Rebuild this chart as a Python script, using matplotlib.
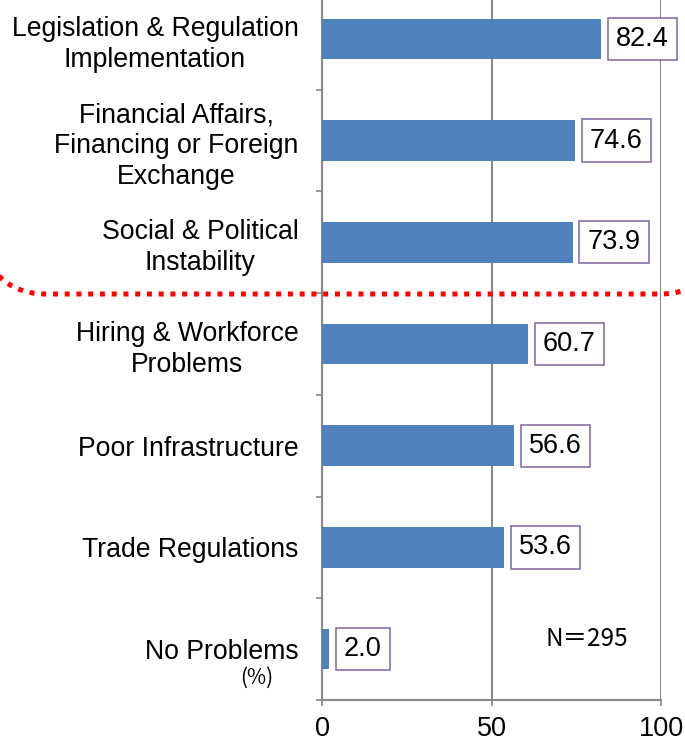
import numpy as np
import matplotlib.pyplot as plt
from matplotlib.lines import Line2D

categories = [
    'Legislation & Regulation\nImplementation',
    'Financial Affairs,\nFinancing or Foreign\nExchange',
    'Social & Political\nInstability',
    'Hiring & Workforce\nProblems',
    'Poor Infrastructure',
    'Trade Regulations',
    'No Problems',
]
values = [82.4, 74.6, 73.9, 60.7, 56.6, 53.6, 2.0]
x_ticks = [0, 50, 100]
sample_note = 'N＝295'
unit_note = '(%)'

bar_color = '#4F81BD'
box_color = '#8064A2'
grid_color = '#898989'

W, H = 685, 744
plt.rcParams['font.family'] = ['Liberation Sans', 'DejaVu Sans']

fig = plt.figure(figsize=(W / 100, H / 100), dpi=100)
# axes top runs a little past the figure edge, as in the source
ax = fig.add_axes([322 / W, 44 / H, 339 / W, 712 / H])

pos = np.arange(len(categories))
ax.barh(pos, values, height=0.4, color=bar_color, zorder=3)

for i, v in enumerate(values):
    ax.annotate(f'{v:.1f}', xy=(v, i), xytext=(10.8, 0), textcoords='offset points',
                ha='left', va='center', fontsize=19.5, zorder=4,
                bbox=dict(boxstyle='square,pad=0.3', fc='white', ec=box_color, lw=1.1))

ax.set_xlim(0, 100)
ax.set_ylim(len(categories) - 0.5, -0.5)
ax.set_xticks(x_ticks)
ax.tick_params(axis='x', labelsize=19.5, length=4.3, width=1.2, color=grid_color, pad=7.5)
ax.set_yticks(pos)
ax.set_yticklabels(categories, fontsize=19.2, multialignment='center', linespacing=1.24)
ax.tick_params(axis='y', which='major', length=0, pad=17)
ax.set_yticks(np.arange(len(categories) + 1) - 0.5, minor=True)
ax.tick_params(axis='y', which='minor', length=4.3, width=1.2, color=grid_color)

ax.xaxis.grid(True, color=grid_color, lw=1.5, zorder=0)
for s in ['top', 'right']:
    ax.spines[s].set_visible(False)
for s in ['left', 'bottom']:
    ax.spines[s].set_color(grid_color)
    ax.spines[s].set_linewidth(1.5)

fig.text(587 / W, 1 - 639 / H, sample_note, ha='center', va='center',
         fontsize=17.5, family=['Noto Sans CJK JP', 'DejaVu Sans'])
fig.text(257 / W, 1 - 678 / H, unit_note, ha='center', va='center', fontsize=15,
         family=['Noto Sans CJK JP', 'DejaVu Sans'])

# red dotted divider between the top three and the rest
t = np.linspace(np.radians(30), np.radians(90), 30)
lx = 45 - 55 * np.cos(t)
ly = 254 + 40 * np.sin(t)
s = np.linspace(0, np.radians(26), 20)
rx = 660 + 60 * np.sin(s)
ry = 250 + 44 * np.cos(s)
px = np.concatenate([lx, rx])
py = np.concatenate([ly, ry])
fig.add_artist(Line2D(px / W, 1 - py / H, transform=fig.transFigure, color='#FF0000',
                      lw=3.6, linestyle=(0, (1, 1.35)), zorder=10))

fig.savefig('out.png', dpi=100)
